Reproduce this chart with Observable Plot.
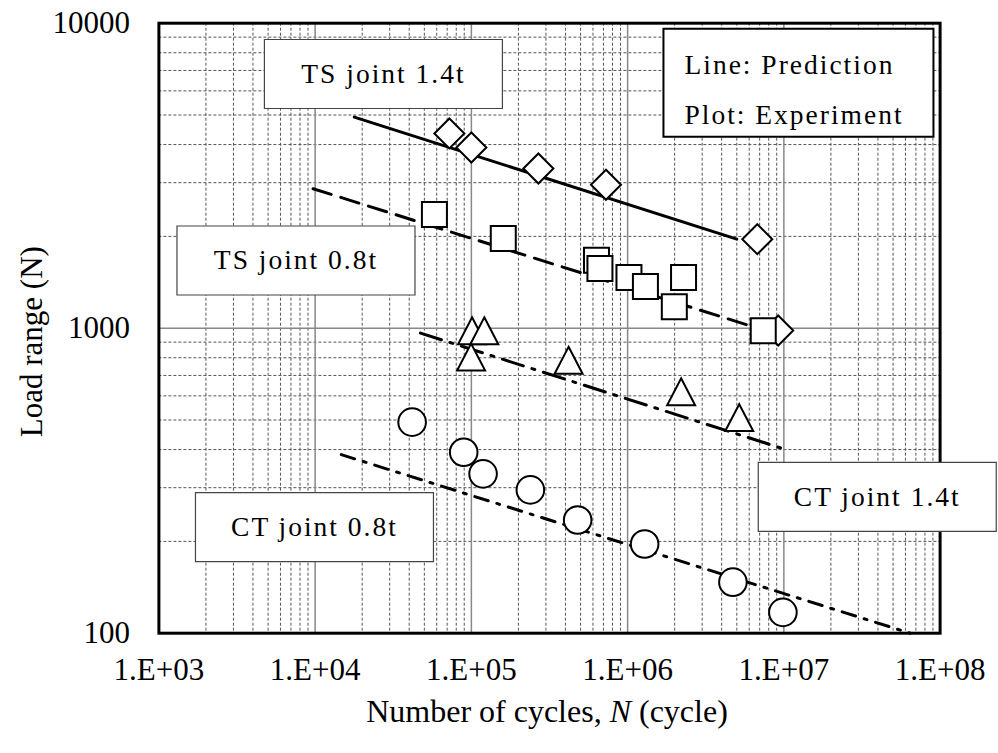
<!DOCTYPE html>
<html>
<head>
<meta charset="utf-8">
<script src="https://cdn.jsdelivr.net/npm/d3@7"></script>
<script src="https://cdn.jsdelivr.net/npm/@observablehq/plot@0.6"></script>
<style>
  html, body { margin: 0; padding: 0; background: #fff; }
  #chart { width: 998px; height: 753px; }
</style>
</head>
<body>
<div id="chart"></div>
<script>
// ---------- axis ticks ----------
const xTicks = [1e3, 1e4, 1e5, 1e6, 1e7, 1e8];
const xTickLabels = ["1.E+03", "1.E+04", "1.E+05", "1.E+06", "1.E+07", "1.E+08"];
const yTicks = [100, 1000, 10000];
const yTickLabels = ["100", "1000", "10000"];

// ---------- experiment (plot markers) ----------
const tsThickN = [72300, 100000, 268500, 727000, 6760000, 9200000];
const tsThickP = [4350, 3913, 3338, 2953, 1958, 983];

const tsThinN = [58000, 160000, 632000, 665000, 1020000, 1300000, 2280000, 1990000, 7380000];
const tsThinP = [2360, 1968, 1671, 1570, 1466, 1371, 1466, 1175, 981];

const ctThickN = [101000, 121000, 99600, 419000, 2200000, 5180000];
const ctThickP = [981, 981, 804, 785, 619, 509];

const ctThinN = [41750, 89300, 118800, 238500, 479000, 1285000, 4720000, 9860000];
const ctThinP = [492, 392, 333, 295, 235, 196, 147, 117];

// ---------- prediction lines ----------
const tsThickLineN = [17800, 5000000];
const tsThickLineP = [4920, 1960];
const tsThinLineN = [9700, 10000000];
const tsThinLineP = [2866, 940];
const ctThickLineN = [47200, 10000000];
const ctThickLineP = [964, 402];
const ctThinLineN = [14700, 64400000];
const ctThinLineP = [385, 100];

// ---------- annotations (anchor in data units) ----------
const labelText = ["TS joint 1.4t", "TS joint 0.8t", "CT joint 0.8t", "CT joint 1.4t"];
const labelN = [27350, 7540, 9900, 39600000];
const labelP = [6815, 1667, 222.8, 279.7];
const legendText = ["Line: Prediction\nPlot: Experiment"];
const legendN = [12400000];
const legendP = [6383];

// ---------- build ----------
const zip = (xs, ys) => xs.map((x, i) => ({x, y: ys[i]}));
const FONT = "'Liberation Serif', 'Times New Roman', serif";

const minorX = [], minorY = [];
for (let e = 3; e < 8; e++) for (let k = 2; k <= 9; k++) minorX.push(k * 10 ** e);
for (let e = 2; e < 4; e++) for (let k = 2; k <= 9; k++) minorY.push(k * 10 ** e);
const majorX = xTicks.slice(1, -1);
const majorY = yTicks.slice(1, -1);

const xLab = new Map(xTicks.map((t, i) => [t, xTickLabels[i]]));
const yLab = new Map(yTicks.map((t, i) => [t, yTickLabels[i]]));

const symDiamond = {draw(c, s) { const r = Math.sqrt(s / Math.PI); c.moveTo(0, -r); c.lineTo(r, 0); c.lineTo(0, r); c.lineTo(-r, 0); c.closePath(); }};
const symSquare = {draw(c, s) { const r = Math.sqrt(s / Math.PI); c.rect(-r, -r, 2 * r, 2 * r); }};
const symTriangle = {draw(c, s) { const r = Math.sqrt(s / Math.PI); c.moveTo(0, -0.96 * r); c.lineTo(r, 0.96 * r); c.lineTo(-r, 0.96 * r); c.closePath(); }};
const boxSym = (w, h) => ({draw(c) { c.rect(-w / 2, -h / 2, w, h); }});

const labels = labelText.map((t, i) => ({t, x: labelN[i], y: labelP[i]}));
const legend = legendText.map((t, i) => ({t, x: legendN[i], y: legendP[i]}));

const plot = Plot.plot({
  width: 998,
  height: 753,
  marginLeft: 158.4,
  marginRight: 58.4,
  marginTop: 22.7,
  marginBottom: 120.3,
  style: {fontFamily: FONT, fontSize: "31px", background: "#fff", color: "#000"},
  x: {type: "log", domain: [1e3, 1e8]},
  y: {type: "log", domain: [100, 10000]},
  marks: [
    Plot.ruleX(minorX, {stroke: "#555", strokeWidth: 1, strokeDasharray: "3,2"}),
    Plot.ruleY(minorY, {stroke: "#555", strokeWidth: 1, strokeDasharray: "3,2"}),
    Plot.ruleX(majorX, {stroke: "#888", strokeWidth: 1.5}),
    Plot.ruleY(majorY, {stroke: "#888", strokeWidth: 1.5}),
    Plot.axisX({ticks: xTicks, tickFormat: d => xLab.get(d), tickSize: 0, tickPadding: 25, label: null, fontSize: 31}),
    Plot.axisY({ticks: yTicks, tickFormat: d => yLab.get(d), tickSize: 0, tickPadding: 29, label: null, fontSize: 31}),
    Plot.frame({stroke: "#000", strokeWidth: 3}),
    Plot.line(zip(tsThickLineN, tsThickLineP), {x: "x", y: "y", stroke: "#000", strokeWidth: 3}),
    Plot.line(zip(tsThinLineN, tsThinLineP), {x: "x", y: "y", stroke: "#000", strokeWidth: 3, strokeDasharray: "19,10"}),
    Plot.line(zip(ctThickLineN, ctThickLineP), {x: "x", y: "y", stroke: "#000", strokeWidth: 3, strokeDasharray: "22,9,3,9"}),
    Plot.line(zip(ctThinLineN, ctThinLineP), {x: "x", y: "y", stroke: "#000", strokeWidth: 3, strokeDasharray: "14,9,3,9"}),
    Plot.dot(zip(tsThickN, tsThickP), {x: "x", y: "y", symbol: symDiamond, r: 15, fill: "#fff", stroke: "#000", strokeWidth: 2}),
    Plot.dot(zip(tsThinN, tsThinP), {x: "x", y: "y", symbol: symSquare, r: 12.5, fill: "#fff", stroke: "#000", strokeWidth: 2}),
    Plot.dot(zip(ctThickN, ctThickP), {x: "x", y: "y", symbol: symTriangle, r: 14, fill: "#fff", stroke: "#000", strokeWidth: 2}),
    Plot.dot(zip(ctThinN, ctThinP), {x: "x", y: "y", symbol: "circle", r: 13.8, fill: "#fff", stroke: "#000", strokeWidth: 2}),
    Plot.dot(labels, {x: "x", y: "y", symbol: boxSym(238, 69), r: 1, fill: "#fff", stroke: "#444", strokeWidth: 1.2}),
    Plot.text(labels, {x: "x", y: "y", text: "t", fontSize: 27.5, fill: "#000"}),
    Plot.dot(legend, {x: "x", y: "y", symbol: boxSym(270, 108), r: 1, fill: "#fff", stroke: "#000", strokeWidth: 2}),
    Plot.text(legend, {x: "x", y: "y", text: "t", fontSize: 27.5, fill: "#000", textAnchor: "start", dx: -114, lineHeight: 1.82})
  ]
});

document.getElementById("chart").appendChild(plot);
const svg = d3.select(plot);
svg.selectAll('g[aria-label="text"] text').style("letter-spacing", "2px");

// axis titles
const xs = plot.scale("x").range;
const xt = svg.append("text")
  .attr("x", (xs[0] + xs[1]) / 2 - 2)
  .attr("y", 722)
  .attr("text-anchor", "middle")
  .style("font-family", FONT).style("font-size", "32px").attr("fill", "#000");
xt.append("tspan").text("Number of cycles, ");
xt.append("tspan").attr("font-style", "italic").text("N");
xt.append("tspan").text(" (cycle)");

const ys = plot.scale("y").range;
svg.append("text")
  .attr("transform", `translate(42,${(ys[0] + ys[1]) / 2 + 14}) rotate(-90)`)
  .attr("text-anchor", "middle")
  .style("font-family", FONT).style("font-size", "31px").attr("fill", "#000")
  .text("Load range (N)");
</script>
</body>
</html>
